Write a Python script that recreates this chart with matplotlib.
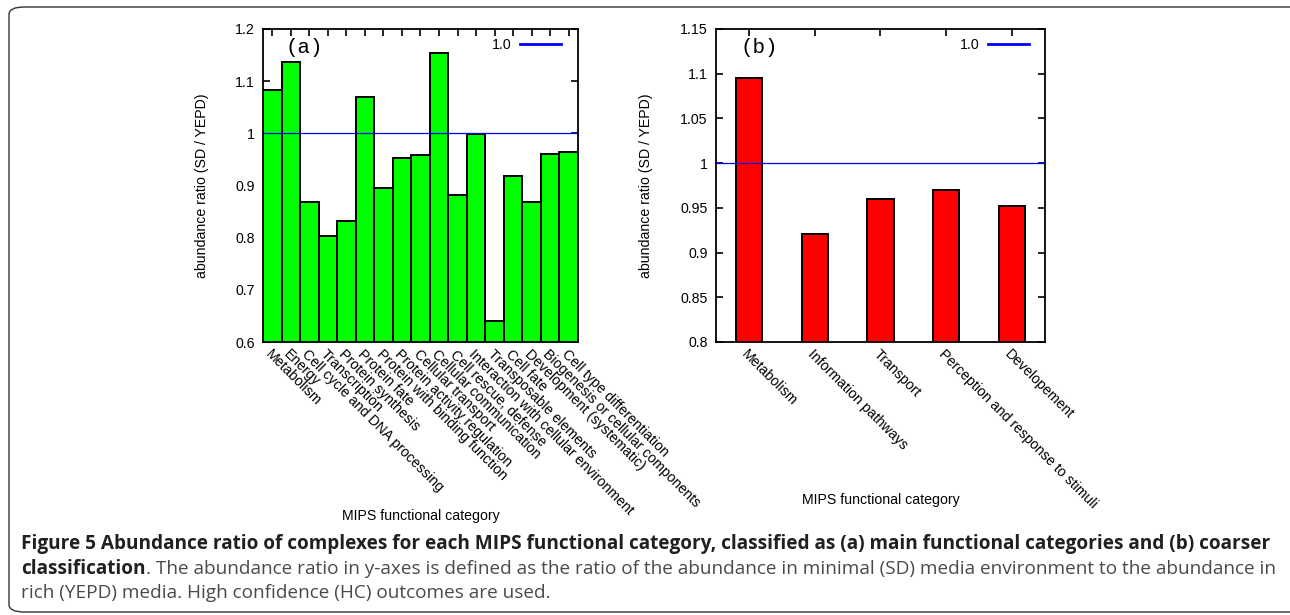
import numpy as np
import matplotlib.pyplot as plt
from matplotlib.patches import FancyBboxPatch

# panel (a): main MIPS functional categories
cats_a = ['Metabolism', 'Energy', 'Cell cycle and DNA processing', 'Transcription',
          'Protein synthesis', 'Protein fate', 'Protein with binding function',
          'Protein activity regulation', 'Cellular transport', 'Cellular communication',
          'Cell rescue, defense', 'Interaction with cellular environment',
          'Transposable elements', 'Cell fate', 'Development (systematic)',
          'Biogenesis or cellular components', 'Cell type differentiation']
vals_a = [1.084, 1.137, 0.868, 0.804, 0.831, 1.069, 0.896, 0.952, 0.959,
          1.154, 0.882, 0.998, 0.640, 0.919, 0.868, 0.961, 0.964]
yticks_a = [0.6, 0.7, 0.8, 0.9, 1.0, 1.1, 1.2]
ytick_labels_a = ['0.6', '0.7', '0.8', '0.9', '1', '1.1', '1.2']

# panel (b): coarser classification
cats_b = ['Metabolism', 'Information pathways', 'Transport',
          'Perception and response to stimuli', 'Developement']
vals_b = [1.095, 0.921, 0.960, 0.970, 0.952]
yticks_b = [0.8, 0.85, 0.9, 0.95, 1.0, 1.05, 1.1, 1.15]
ytick_labels_b = ['0.8', '0.85', '0.9', '0.95', '1', '1.05', '1.1', '1.15']

ref_level = 1.0

plt.rcParams['font.family'] = ['Liberation Sans', 'DejaVu Sans']
FS = 10.2

W, H = 1290, 615
fig = plt.figure(figsize=(W / 100, H / 100), dpi=100)


def px_axes(x0, y0, x1, y1):
    # pixel box (top-left origin) -> figure fractions
    return fig.add_axes([x0 / W, 1 - y1 / H, (x1 - x0) / W, (y1 - y0) / H])


def panel(ax, cats, vals, width, color, yticks, ylabels, tag, xlabel_y, ylabel_x, leg_x):
    x = np.arange(len(cats))
    ax.bar(x, vals, width=width, color=color, edgecolor='black', linewidth=1.4, zorder=2)
    ax.plot([-0.5, len(cats) - 0.5], [ref_level, ref_level], color='#0000ff',
            linewidth=0.9, zorder=3)
    ax.plot([], [], color='#0000ff', linewidth=2, label='1.0')
    ax.set_xlim(-0.5, len(cats) - 0.5)
    ax.set_ylim(yticks[0], yticks[-1])
    ax.set_yticks(yticks)
    ax.set_yticklabels(ylabels)
    ax.set_xticks(x)
    ax.set_xticklabels(cats, rotation=-45, ha='left', va='top',
                       rotation_mode='anchor', fontsize=FS)
    ax.tick_params(direction='in', length=5, width=1.2, top=True, right=True,
                   labelsize=FS, pad=6)
    ax.tick_params(axis='x', pad=4)
    for s in ax.spines.values():
        s.set_linewidth(1.3)
    ax.set_xlabel('MIPS functional category', fontsize=FS)
    ax.set_ylabel('abundance ratio (SD / YEPD)', fontsize=FS)
    ax.xaxis.set_label_coords(0.5, xlabel_y)
    ax.yaxis.set_label_coords(ylabel_x, 0.5)
    ax.text(0.073, 0.94, tag, transform=ax.transAxes, fontsize=15,
            family='Liberation Mono', va='center', ha='left')
    ax.legend(loc='upper right', bbox_to_anchor=(leg_x, 0.989), frameon=False,
              markerfirst=False, handlelength=2.9, handletextpad=0.6, fontsize=FS,
              borderaxespad=0)


ax_a = px_axes(263, 29, 578, 342)
panel(ax_a, cats_a, vals_a, 1.0, '#00ff00', yticks_a, ytick_labels_a, '(a)',
      -0.534, -0.17, 0.965)

ax_b = px_axes(716, 29, 1045, 342)
panel(ax_b, cats_b, vals_b, 0.4, '#ff0000', yticks_b, ytick_labels_b, '(b)',
      -0.482, -0.19, 0.970)

# caption
cap_font = ['Open Sans', 'DejaVu Sans']
CFS = 13.7
line1 = ('Figure 5 Abundance ratio of complexes for each MIPS functional category, '
         'classified as (a) main functional categories and (b) coarser')
line2_bold = 'classification'
line2_rest = ('. The abundance ratio in y-axes is defined as the ratio of the abundance '
              'in minimal (SD) media environment to the abundance in')
line3 = 'rich (YEPD) media. High confidence (HC) outcomes are used.'

x0 = 21 / W
fig.text(x0, 1 - 549 / H, line1, fontsize=CFS, fontweight='bold', family=cap_font,
         color='#231f20', va='baseline')
t2 = fig.text(x0, 1 - 574 / H, line2_bold, fontsize=CFS, fontweight='bold',
              family=cap_font, color='#231f20', va='baseline')
fig.canvas.draw()
bb = t2.get_window_extent()
fig.text(bb.x1 / W, 1 - 574 / H, line2_rest, fontsize=CFS, family=cap_font,
         color='#4a4a4a', va='baseline')
fig.text(x0, 1 - 598 / H, line3, fontsize=CFS, family=cap_font,
         color='#4a4a4a', va='baseline')

box = FancyBboxPatch((9 / W, 3 / H), 1.2, 1 - 10 / H, boxstyle='round,pad=0,rounding_size=0.012',
                     transform=fig.transFigure, fill=False, edgecolor='#333333',
                     linewidth=1.0, clip_on=False)
fig.patches.append(box)

fig.savefig('out.png', dpi=100)
